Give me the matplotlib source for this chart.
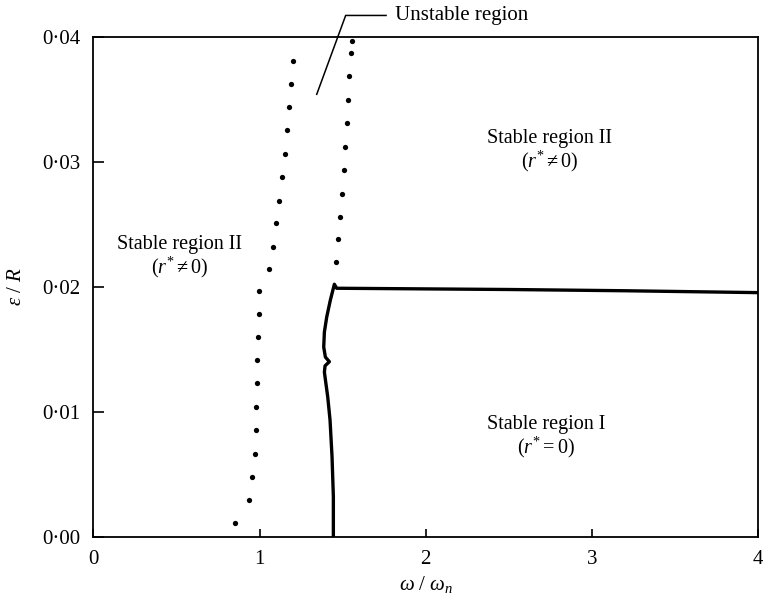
import matplotlib
matplotlib.use("Agg")
import matplotlib.pyplot as plt
from matplotlib.ticker import FixedLocator, FuncFormatter

plt.rcParams['font.family'] = ['Liberation Serif', 'DejaVu Serif']
plt.rcParams['mathtext.fontset'] = 'custom'
plt.rcParams['mathtext.rm'] = 'Liberation Serif'
plt.rcParams['mathtext.it'] = 'Liberation Serif:italic'
plt.rcParams['mathtext.bf'] = 'Liberation Serif:bold'

# boundary points (omega/omega_n, eps/R)
left_x = [1.199, 1.187, 1.177, 1.167, 1.151, 1.135, 1.119, 1.101, 1.081, 1.059,
          0.996, 0.995, 0.991, 0.987, 0.987, 0.979, 0.979, 0.971, 0.957, 0.935, 0.851]
left_y = [0.03808, 0.03624, 0.03436, 0.03252, 0.0306, 0.02877, 0.02687, 0.02509, 0.02322, 0.02141,
          0.01967, 0.01782, 0.01598, 0.01414, 0.0123, 0.01044, 0.00855, 0.00668, 0.00482, 0.00298, 0.00117]

right_x = [1.554, 1.548, 1.540, 1.534, 1.524, 1.514, 1.506, 1.494, 1.486, 1.474, 1.462]
right_y = [0.03966, 0.03872, 0.03683, 0.03494, 0.03308, 0.03121, 0.02935, 0.02746, 0.02562, 0.02381, 0.02197]

# region I / II border
curve_x = [1.444, 1.444, 1.436, 1.424, 1.410, 1.396, 1.390, 1.394, 1.420, 1.396, 1.386,
           1.390, 1.404, 1.426, 1.444, 1.450, 1.464, 2.5, 3.2, 4.0]
curve_y = [0.0, 0.00324, 0.00644, 0.00937, 0.01123, 0.01260, 0.01320, 0.01370, 0.01403, 0.01440, 0.01520,
           0.01640, 0.01760, 0.01896, 0.0199, 0.02022, 0.0199, 0.0198, 0.0197, 0.01955]

x_ticks = [0, 1, 2, 3, 4]
y_ticks = [0.0, 0.01, 0.02, 0.03, 0.04]

fig = plt.figure(figsize=(7.63, 6.03), dpi=100)
ax = fig.add_axes([0.1223, 0.109, 0.8715, 0.8301])

ax.plot(left_x, left_y, 'o', color='black', markersize=3.8, markeredgewidth=0)
ax.plot(right_x, right_y, 'o', color='black', markersize=3.8, markeredgewidth=0)
ax.plot(curve_x, curve_y, '-', color='black', linewidth=2.4, solid_joinstyle='round')

ax.set_xlim(0, 4)
ax.set_ylim(0, 0.04)
ax.xaxis.set_major_locator(FixedLocator(x_ticks))
ax.yaxis.set_major_locator(FixedLocator(y_ticks))
ax.xaxis.set_major_formatter(FuncFormatter(lambda v, p: '%d' % v))
ax.yaxis.set_major_formatter(FuncFormatter(lambda v, p: ('%.2f' % v).replace('.', '\u00b7')))
ax.tick_params(axis='both', direction='in', labelsize=15, width=1.2, colors='black')
ax.tick_params(axis='y', length=8, pad=9)
ax.tick_params(axis='x', length=6, pad=9)
for s in ax.spines.values():
    s.set_linewidth(1.3)

ax.set_xlabel(r'$\omega\ /\ \omega_n$', fontsize=15, labelpad=4)
ax.set_ylabel(r'$\varepsilon\ /\ R$', fontsize=15, labelpad=12)

ax.text(0.521, 0.02343, 'Stable region II', fontsize=14.5, ha='center', va='center')
ax.text(0.521, 0.0216, r'$(r^{*}\neq 0)$', fontsize=14.5, ha='center', va='center')
ax.text(2.747, 0.0319, 'Stable region II', fontsize=14.5, ha='center', va='center')
ax.text(2.747, 0.0300, r'$(r^{*}\neq 0)$', fontsize=14.5, ha='center', va='center')
ax.text(2.723, 0.0090, 'Stable region I', fontsize=14.5, ha='center', va='center')
ax.text(2.723, 0.0072, r'$(r^{*}=0)$', fontsize=14.5, ha='center', va='center')

# leader line for the unstable band
ax.plot([1.344, 1.518, 1.761], [0.0354, 0.0417, 0.0417], '-', color='black',
        linewidth=1.1, clip_on=False)
ax.text(1.815, 0.0417, 'Unstable region', fontsize=15, ha='left', va='center')

fig.savefig('out.png', dpi=100)
